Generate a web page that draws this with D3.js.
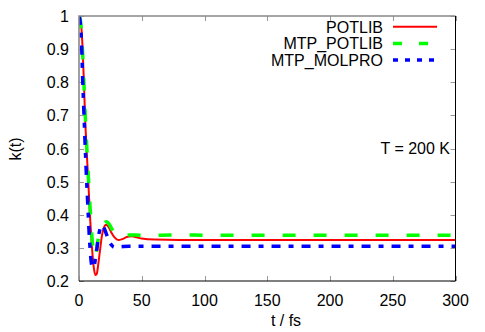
<!DOCTYPE html>
<html>
<head>
<meta charset="utf-8">
<script src="https://cdn.jsdelivr.net/npm/d3@7"></script>
<style>
  body { margin: 0; background: #fff; }
  text { font-family: "Liberation Sans", Arial, sans-serif; font-size: 16px; fill: #000; }
</style>
</head>
<body>
<div class="container"></div>
<script>
// values
const xTicks = [0, 50, 100, 150, 200, 250, 300]
const yTicks = [0.2, 0.3, 0.4, 0.5, 0.6, 0.7, 0.8, 0.9, 1]

const potlib = [
  [0,1],[1,0.99],[2,0.96],[3,0.89],[4,0.79],[5,0.68],[6,0.6],[7,0.53],[8,0.455],[9,0.38],
  [10,0.32],[11,0.27],[12,0.235],[13,0.218],[14,0.22],[15,0.24],[16,0.27],[17,0.3],[18,0.33],
  [19,0.35],[20,0.363],[21,0.369],[22,0.369],[24,0.36],[26,0.345],[28,0.333],[30,0.326],
  [32,0.324],[35,0.327],[38,0.333],[42,0.335],[46,0.332],[50,0.328],[60,0.325],[80,0.324],
  [100,0.324],[150,0.324],[200,0.324],[250,0.324],[300,0.324]
]
const mtpPotlib = [
  [0,1],[1,0.99],[2,0.95],[3,0.88],[4,0.79],[5,0.7],[6,0.62],[7,0.545],[8,0.48],[9,0.41],
  [10,0.35],[11,0.3],[12,0.272],[13,0.275],[14,0.295],[15,0.32],[16,0.34],[17,0.355],[18,0.365],
  [20,0.375],[22,0.379],[24,0.372],[26,0.358],[28,0.345],[30,0.336],[33,0.333],[36,0.336],
  [40,0.339],[50,0.338],[80,0.339],[100,0.338],[150,0.338],[200,0.338],[250,0.338],[300,0.338]
]
const mtpMolpro = [
  [0,1],[1,0.98],[2,0.92],[3,0.8],[4,0.7],[5,0.6],[6,0.51],[7,0.43],[8,0.35],[9,0.29],
  [10,0.25],[11,0.24],[12,0.245],[13,0.265],[14,0.29],[15,0.32],[16,0.345],[17,0.36],[18,0.368],
  [19,0.368],[20,0.36],[22,0.34],[24,0.32],[26,0.308],[28,0.302],[30,0.302],[35,0.304],
  [40,0.305],[60,0.305],[100,0.305],[200,0.305],[300,0.305]
]

const series = [
  {name: 'POTLIB', data: potlib, color: '#ff0000', width: 2, dash: null, legDash: null},
  {name: 'MTP_POTLIB', data: mtpPotlib, color: '#00ff00', width: 3.5, dash: '13,18', legDash: '9,17'},
  {name: 'MTP_MOLPRO', data: mtpMolpro, color: '#0000ff', width: 3.5, dash: '9,8,5,8', legDash: '5,7'}
]

const width = 485, height = 332
const svg = d3.select('.container').append('svg').attr('width', width).attr('height', height)

const mLeft = 79, mRight = 455.5, mTop = 16, mBottom = 281

const x = d3.scaleLinear().domain([0, 300]).range([mLeft, mRight])
const y = d3.scaleLinear().domain([0.2, 1]).range([mBottom, mTop])

// ticks (mirrored, inward)
const tickG = svg.append('g').attr('stroke', '#999').attr('stroke-width', 1)
xTicks.forEach(t => {
  const px = Math.round(x(t)) + 0.5
  tickG.append('line').attr('x1', px).attr('x2', px).attr('y1', mBottom).attr('y2', mBottom - 5)
  tickG.append('line').attr('x1', px).attr('x2', px).attr('y1', mTop).attr('y2', mTop + 5)
})
yTicks.forEach(t => {
  const py = Math.round(y(t)) + 0.5
  tickG.append('line').attr('x1', mLeft).attr('x2', mLeft + 5).attr('y1', py).attr('y2', py)
  tickG.append('line').attr('x1', mRight).attr('x2', mRight - 5).attr('y1', py).attr('y2', py)
})

svg.selectAll('.xl').data(xTicks).enter().append('text')
  .attr('x', d => x(d)).attr('y', 306).attr('text-anchor', 'middle').text(d => d)
svg.selectAll('.yl').data(yTicks).enter().append('text')
  .attr('x', 69).attr('y', d => y(d) + 6).attr('text-anchor', 'end').text(d => d)

svg.append('text').attr('x', 286).attr('y', 326).attr('text-anchor', 'middle').text('t / fs')
svg.append('text').attr('transform', 'translate(21,149) rotate(-90)').attr('text-anchor', 'middle').text('k(t)')
svg.append('text').attr('x', 450).attr('y', 154).attr('text-anchor', 'end').text('T = 200 K')

const line = d3.line().x(d => x(d[0])).y(d => y(d[1])).curve(d3.curveMonotoneX)

const clip = svg.append('clipPath').attr('id', 'clip')
clip.append('rect').attr('x', mLeft).attr('y', mTop).attr('width', mRight - mLeft).attr('height', mBottom - mTop)

series.forEach(s => {
  svg.append('path')
    .attr('d', line(s.data))
    .attr('fill', 'none')
    .attr('stroke', s.color)
    .attr('stroke-width', s.width)
    .attr('stroke-dasharray', s.dash)
    .attr('clip-path', 'url(#clip)')
})

// legend
series.forEach((s, i) => {
  const ly = 26.7 + i * 16.7
  svg.append('text').attr('x', 383).attr('y', ly + 6).attr('text-anchor', 'end').text(s.name)
  svg.append('line')
    .attr('x1', 393).attr('x2', 437).attr('y1', ly).attr('y2', ly)
    .attr('stroke', s.color).attr('stroke-width', s.width)
    .attr('stroke-dasharray', s.legDash)
})

// frame
svg.append('path').attr('d', `M${mLeft},${mBottom}V${mTop}H${mRight}`)
  .attr('fill', 'none').attr('stroke', '#888').attr('stroke-width', 1.6)
svg.append('path').attr('d', `M${mRight},${mTop}V${mBottom}H${mLeft}`)
  .attr('fill', 'none').attr('stroke', '#000').attr('stroke-width', 1)
</script>
</body>
</html>
